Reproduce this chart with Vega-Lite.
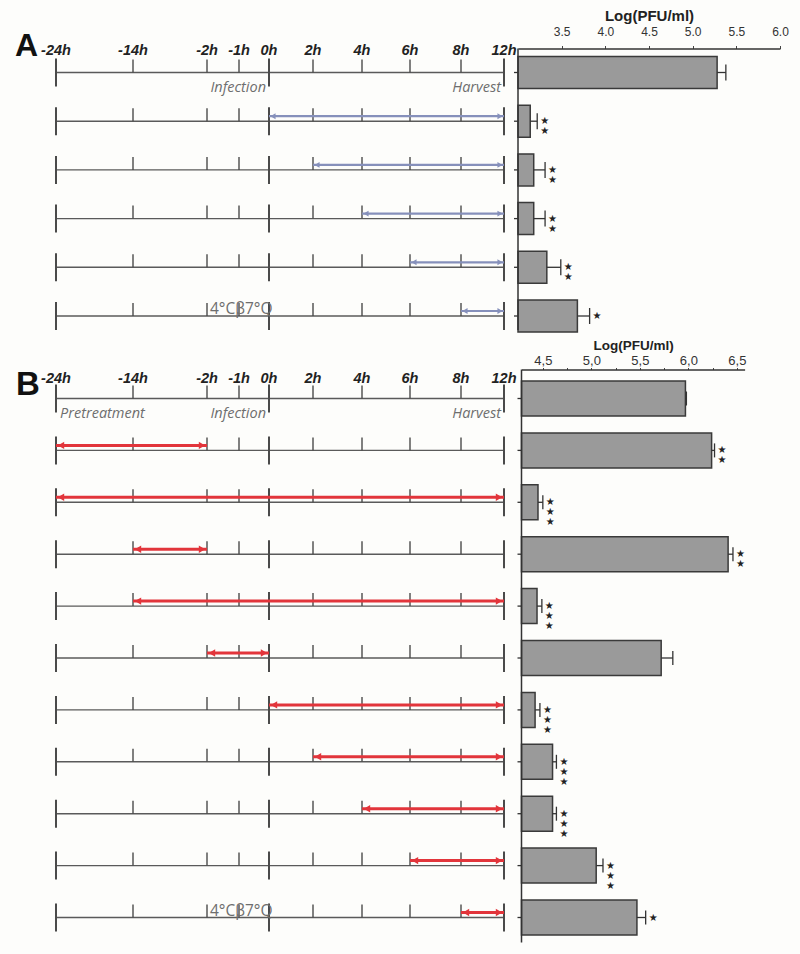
{
  "$schema": "https://vega.github.io/schema/vega-lite/v6.json",
  "width": 800,
  "height": 954,
  "autosize": {"type": "fit", "contains": "padding"},
  "padding": 0,
  "background": "#fdfdfb",
  "config": {"view": {"stroke": null}},
  "datasets": {
    "rows": [
      {"row": 1, "panel": "A", "val": 5.28, "hi": 5.38, "stars": "", "from": null, "to": null, "short": [-14, -2, -1, 2, 4, 6, 8], "long": [-24, 0, 12]},
      {"row": 2, "panel": "A", "val": 3.14, "hi": 3.22, "stars": "★ ★", "from": 0, "to": 12, "short": [-14, -2, -1, 2, 4, 6, 8], "long": [-24, 0, 12]},
      {"row": 3, "panel": "A", "val": 3.18, "hi": 3.31, "stars": "★ ★", "from": 2, "to": 12, "short": [-14, -2, -1, 2, 4, 6, 8], "long": [-24, 0, 12]},
      {"row": 4, "panel": "A", "val": 3.18, "hi": 3.31, "stars": "★ ★", "from": 4, "to": 12, "short": [-14, -2, -1, 2, 4, 6, 8], "long": [-24, 0, 12]},
      {"row": 5, "panel": "A", "val": 3.33, "hi": 3.49, "stars": "★ ★", "from": 6, "to": 12, "short": [-14, -2, -1, 2, 4, 6, 8], "long": [-24, 0, 12]},
      {"row": 6, "panel": "A", "val": 3.68, "hi": 3.82, "stars": "★", "from": 8, "to": 12, "short": [-14, -2, -1, 2, 4, 6, 8], "long": [-24, 0, 12]},
      {"row": 7, "panel": "B", "val": 5.97, "hi": 5.98, "stars": "", "from": null, "to": null, "short": [-14, -2, -1, 2, 4, 6, 8], "long": [-24, 0, 12]},
      {"row": 8, "panel": "B", "val": 6.24, "hi": 6.27, "stars": "★ ★", "from": -24, "to": -2, "short": [-14, -2, -1, 2, 4, 6, 8], "long": [-24, 0, 12]},
      {"row": 9, "panel": "B", "val": 4.45, "hi": 4.50, "stars": "★ ★ ★", "from": -24, "to": 12, "short": [-14, -2, -1, 2, 4, 6, 8], "long": [-24, 0, 12]},
      {"row": 10, "panel": "B", "val": 6.41, "hi": 6.46, "stars": "★ ★", "from": -14, "to": -2, "short": [-14, -2, -1, 2, 4, 6, 8], "long": [-24, 0, 12]},
      {"row": 11, "panel": "B", "val": 4.44, "hi": 4.49, "stars": "★ ★ ★", "from": -14, "to": 12, "short": [-14, -2, -1, 2, 4, 6, 8], "long": [-24, 0, 12]},
      {"row": 12, "panel": "B", "val": 5.72, "hi": 5.84, "stars": "", "from": -2, "to": 0, "short": [-14, -2, -1, 2, 4, 6, 8], "long": [-24, 0, 12]},
      {"row": 13, "panel": "B", "val": 4.42, "hi": 4.47, "stars": "★ ★ ★", "from": 0, "to": 12, "short": [-14, -2, -1, 2, 4, 6, 8], "long": [-24, 0, 12]},
      {"row": 14, "panel": "B", "val": 4.60, "hi": 4.64, "stars": "★ ★ ★", "from": 2, "to": 12, "short": [-14, -2, -1, 2, 4, 6, 8], "long": [-24, 0, 12]},
      {"row": 15, "panel": "B", "val": 4.60, "hi": 4.64, "stars": "★ ★ ★", "from": 4, "to": 12, "short": [-14, -2, -1, 2, 4, 6, 8], "long": [-24, 0, 12]},
      {"row": 16, "panel": "B", "val": 5.05, "hi": 5.12, "stars": "★ ★ ★", "from": 6, "to": 12, "short": [-14, -2, -1, 2, 4, 6, 8], "long": [-24, 0, 12]},
      {"row": 17, "panel": "B", "val": 5.47, "hi": 5.56, "stars": "★", "from": 8, "to": 12, "short": [-14, -2, -1, 2, 4, 6, 8], "long": [-24, 0, 12]}
    ],
    "hours": [
      {"t": -24, "label": "-24h"}, {"t": -14, "label": "-14h"}, {"t": -2, "label": "-2h"},
      {"t": -1, "label": "-1h"}, {"t": 0, "label": "0h"}, {"t": 2, "label": "2h"},
      {"t": 4, "label": "4h"}, {"t": 6, "label": "6h"}, {"t": 8, "label": "8h"}, {"t": 12, "label": "12h"}
    ],
    "panels": [{"panel": "A", "row": 1}, {"panel": "B", "row": 7}],
    "notesBelow": [
      {"row": 1, "t": 0, "label": "Infection"}, {"row": 1, "t": 12, "label": "Harvest"},
      {"row": 7, "t": 0, "label": "Infection"}, {"row": 7, "t": 12, "label": "Harvest"},
      {"row": 7, "t": -24, "label": "Pretreatment"}
    ],
    "notesAbove": [{"row": 6, "t": -2, "label": "4°Cβ7°Q"}, {"row": 17, "t": -2, "label": "4°Cβ7°Q"}]
  },
  "resolve": {"scale": {"x": "independent"}},
  "layer": [
    {
      "data": {"name": "rows"},
      "layer": [
        {
          "mark": {"type": "rule", "color": "#5a5a5a", "strokeWidth": 1.4},
          "encoding": {
            "x": {"datum": -24, "type": "quantitative", "scale": {"domain": [-24, -14, -2, -1, 0, 2, 4, 6, 8, 12], "range": [56, 133, 207, 239, 269, 313, 362, 410, 461, 504]}, "axis": null},
            "x2": {"datum": 12},
            "y": {"field": "row", "type": "quantitative", "scale": {"domain": [1, 6, 7, 17], "range": [72.5, 316, 398.5, 917.5], "padding": 0}, "axis": null}
          }
        },
        {
          "transform": [{"flatten": ["short"]}],
          "mark": {"type": "rule", "color": "#4a4a4a", "strokeWidth": 1.4, "yOffset": -13},
          "encoding": {
            "x": {"field": "short", "type": "quantitative", "scale": {"domain": [-24, -14, -2, -1, 0, 2, 4, 6, 8, 12], "range": [56, 133, 207, 239, 269, 313, 362, 410, 461, 504]}, "axis": null},
            "y": {"field": "row", "type": "quantitative", "scale": {"domain": [1, 6, 7, 17], "range": [72.5, 316, 398.5, 917.5], "padding": 0}, "axis": null},
            "y2": {"field": "row"}
          }
        },
        {
          "transform": [{"flatten": ["long"]}],
          "mark": {"type": "rule", "color": "#4a4a4a", "strokeWidth": 2, "yOffset": -14, "y2Offset": 14},
          "encoding": {
            "x": {"field": "long", "type": "quantitative", "scale": {"domain": [-24, -14, -2, -1, 0, 2, 4, 6, 8, 12], "range": [56, 133, 207, 239, 269, 313, 362, 410, 461, 504]}, "axis": null},
            "y": {"field": "row", "type": "quantitative", "scale": {"domain": [1, 6, 7, 17], "range": [72.5, 316, 398.5, 917.5], "padding": 0}, "axis": null},
            "y2": {"field": "row"}
          }
        },
        {
          "transform": [{"filter": "datum.panel == 'A' && datum.from != null"}],
          "mark": {"type": "rule", "color": "#8690bb", "strokeWidth": 2.2, "yOffset": -5},
          "encoding": {
            "x": {"field": "from", "type": "quantitative", "scale": {"domain": [-24, -14, -2, -1, 0, 2, 4, 6, 8, 12], "range": [56, 133, 207, 239, 269, 313, 362, 410, 461, 504]}, "axis": null},
            "x2": {"field": "to"},
            "y": {"field": "row", "type": "quantitative", "scale": {"domain": [1, 6, 7, 17], "range": [72.5, 316, 398.5, 917.5], "padding": 0}, "axis": null}
          }
        },
        {
          "transform": [{"filter": "datum.panel == 'A' && datum.from != null"}],
          "mark": {"type": "point", "shape": "triangle-left", "filled": true, "opacity": 1, "size": 35, "color": "#8690bb", "xOffset": 4, "yOffset": -5},
          "encoding": {
            "x": {"field": "from", "type": "quantitative", "scale": {"domain": [-24, -14, -2, -1, 0, 2, 4, 6, 8, 12], "range": [56, 133, 207, 239, 269, 313, 362, 410, 461, 504]}, "axis": null},
            "y": {"field": "row", "type": "quantitative", "scale": {"domain": [1, 6, 7, 17], "range": [72.5, 316, 398.5, 917.5], "padding": 0}, "axis": null}
          }
        },
        {
          "transform": [{"filter": "datum.panel == 'A' && datum.from != null"}],
          "mark": {"type": "point", "shape": "triangle-right", "filled": true, "opacity": 1, "size": 35, "color": "#8690bb", "xOffset": -4, "yOffset": -5},
          "encoding": {
            "x": {"field": "to", "type": "quantitative", "scale": {"domain": [-24, -14, -2, -1, 0, 2, 4, 6, 8, 12], "range": [56, 133, 207, 239, 269, 313, 362, 410, 461, 504]}, "axis": null},
            "y": {"field": "row", "type": "quantitative", "scale": {"domain": [1, 6, 7, 17], "range": [72.5, 316, 398.5, 917.5], "padding": 0}, "axis": null}
          }
        },
        {
          "transform": [{"filter": "datum.panel == 'B' && datum.from != null"}],
          "mark": {"type": "rule", "color": "#e2353b", "strokeWidth": 3, "yOffset": -5},
          "encoding": {
            "x": {"field": "from", "type": "quantitative", "scale": {"domain": [-24, -14, -2, -1, 0, 2, 4, 6, 8, 12], "range": [56, 133, 207, 239, 269, 313, 362, 410, 461, 504]}, "axis": null},
            "x2": {"field": "to"},
            "y": {"field": "row", "type": "quantitative", "scale": {"domain": [1, 6, 7, 17], "range": [72.5, 316, 398.5, 917.5], "padding": 0}, "axis": null}
          }
        },
        {
          "transform": [{"filter": "datum.panel == 'B' && datum.from != null"}],
          "mark": {"type": "point", "shape": "triangle-left", "filled": true, "opacity": 1, "size": 55, "color": "#e2353b", "xOffset": 5, "yOffset": -5},
          "encoding": {
            "x": {"field": "from", "type": "quantitative", "scale": {"domain": [-24, -14, -2, -1, 0, 2, 4, 6, 8, 12], "range": [56, 133, 207, 239, 269, 313, 362, 410, 461, 504]}, "axis": null},
            "y": {"field": "row", "type": "quantitative", "scale": {"domain": [1, 6, 7, 17], "range": [72.5, 316, 398.5, 917.5], "padding": 0}, "axis": null}
          }
        },
        {
          "transform": [{"filter": "datum.panel == 'B' && datum.from != null"}],
          "mark": {"type": "point", "shape": "triangle-right", "filled": true, "opacity": 1, "size": 55, "color": "#e2353b", "xOffset": -5, "yOffset": -5},
          "encoding": {
            "x": {"field": "to", "type": "quantitative", "scale": {"domain": [-24, -14, -2, -1, 0, 2, 4, 6, 8, 12], "range": [56, 133, 207, 239, 269, 313, 362, 410, 461, 504]}, "axis": null},
            "y": {"field": "row", "type": "quantitative", "scale": {"domain": [1, 6, 7, 17], "range": [72.5, 316, 398.5, 917.5], "padding": 0}, "axis": null}
          }
        },
        {
          "data": {"name": "hours"},
          "mark": {"type": "text", "font": "Liberation Sans", "fontWeight": "bold", "fontStyle": "italic", "fontSize": 14.5, "color": "#222", "align": "center", "baseline": "alphabetic", "dy": -17.5},
          "encoding": {
            "x": {"field": "t", "type": "quantitative", "scale": {"domain": [-24, -14, -2, -1, 0, 2, 4, 6, 8, 12], "range": [56, 133, 207, 239, 269, 313, 362, 410, 461, 504]}, "axis": null},
            "y": {"datum": 1, "type": "quantitative", "scale": {"domain": [1, 6, 7, 17], "range": [72.5, 316, 398.5, 917.5], "padding": 0}, "axis": null},
            "text": {"field": "label"}
          }
        },
        {
          "data": {"name": "hours"},
          "mark": {"type": "text", "font": "Liberation Sans", "fontWeight": "bold", "fontStyle": "italic", "fontSize": 14.5, "color": "#222", "align": "center", "baseline": "alphabetic", "dy": -15.5},
          "encoding": {
            "x": {"field": "t", "type": "quantitative", "scale": {"domain": [-24, -14, -2, -1, 0, 2, 4, 6, 8, 12], "range": [56, 133, 207, 239, 269, 313, 362, 410, 461, 504]}, "axis": null},
            "y": {"datum": 7, "type": "quantitative", "scale": {"domain": [1, 6, 7, 17], "range": [72.5, 316, 398.5, 917.5], "padding": 0}, "axis": null},
            "text": {"field": "label"}
          }
        },
        {
          "data": {"name": "panels"},
          "transform": [{"filter": "datum.panel == 'A'"}],
          "mark": {"type": "text", "font": "Liberation Sans", "fontWeight": "bold", "fontSize": 32, "color": "#111", "align": "left", "baseline": "alphabetic", "dx": -41, "dy": -17},
          "encoding": {
            "x": {"datum": -24, "type": "quantitative", "scale": {"domain": [-24, -14, -2, -1, 0, 2, 4, 6, 8, 12], "range": [56, 133, 207, 239, 269, 313, 362, 410, 461, 504]}, "axis": null},
            "y": {"field": "row", "type": "quantitative", "scale": {"domain": [1, 6, 7, 17], "range": [72.5, 316, 398.5, 917.5], "padding": 0}, "axis": null},
            "text": {"field": "panel"}
          }
        },
        {
          "data": {"name": "panels"},
          "transform": [{"filter": "datum.panel == 'B'"}],
          "mark": {"type": "text", "font": "Liberation Sans", "fontWeight": "bold", "fontSize": 33, "color": "#111", "align": "left", "baseline": "alphabetic", "dx": -40, "dy": -3.5},
          "encoding": {
            "x": {"datum": -24, "type": "quantitative", "scale": {"domain": [-24, -14, -2, -1, 0, 2, 4, 6, 8, 12], "range": [56, 133, 207, 239, 269, 313, 362, 410, 461, 504]}, "axis": null},
            "y": {"field": "row", "type": "quantitative", "scale": {"domain": [1, 6, 7, 17], "range": [72.5, 316, 398.5, 917.5], "padding": 0}, "axis": null},
            "text": {"field": "panel"}
          }
        },
        {
          "data": {"name": "notesBelow"},
          "transform": [{"filter": "datum.t != -24"}],
          "mark": {"type": "text", "font": "Open Sans", "fontStyle": "italic", "fontSize": 14.5, "color": "#6e6e6e", "align": "right", "baseline": "alphabetic", "dx": -3, "dy": 19},
          "encoding": {
            "x": {"field": "t", "type": "quantitative", "scale": {"domain": [-24, -14, -2, -1, 0, 2, 4, 6, 8, 12], "range": [56, 133, 207, 239, 269, 313, 362, 410, 461, 504]}, "axis": null},
            "y": {"field": "row", "type": "quantitative", "scale": {"domain": [1, 6, 7, 17], "range": [72.5, 316, 398.5, 917.5], "padding": 0}, "axis": null},
            "text": {"field": "label"}
          }
        },
        {
          "data": {"name": "notesBelow"},
          "transform": [{"filter": "datum.t == -24"}],
          "mark": {"type": "text", "font": "Open Sans", "fontStyle": "italic", "fontSize": 14.5, "color": "#6e6e6e", "align": "left", "baseline": "alphabetic", "dx": 4, "dy": 19},
          "encoding": {
            "x": {"field": "t", "type": "quantitative", "scale": {"domain": [-24, -14, -2, -1, 0, 2, 4, 6, 8, 12], "range": [56, 133, 207, 239, 269, 313, 362, 410, 461, 504]}, "axis": null},
            "y": {"field": "row", "type": "quantitative", "scale": {"domain": [1, 6, 7, 17], "range": [72.5, 316, 398.5, 917.5], "padding": 0}, "axis": null},
            "text": {"field": "label"}
          }
        },
        {
          "data": {"name": "notesAbove"},
          "mark": {"type": "text", "font": "Open Sans", "fontSize": 15.5, "color": "#6e6e6e", "align": "left", "baseline": "alphabetic", "dx": 3, "dy": -2},
          "encoding": {
            "x": {"field": "t", "type": "quantitative", "scale": {"domain": [-24, -14, -2, -1, 0, 2, 4, 6, 8, 12], "range": [56, 133, 207, 239, 269, 313, 362, 410, 461, 504]}, "axis": null},
            "y": {"field": "row", "type": "quantitative", "scale": {"domain": [1, 6, 7, 17], "range": [72.5, 316, 398.5, 917.5], "padding": 0}, "axis": null},
            "text": {"field": "label"}
          }
        }
      ]
    },
    {
      "data": {"name": "rows"},
      "transform": [{"filter": "datum.panel == 'A'"}],
      "layer": [
        {
          "mark": {"type": "bar", "height": 32, "color": "#9a9a9a", "stroke": "#3a3a3a", "strokeWidth": 1.5},
          "encoding": {
            "x": {"field": "val", "type": "quantitative", "scale": {"domain": [3, 6], "range": [518, 780]},
              "axis": {"orient": "top", "offset": -48.5, "values": [3.5, 4, 4.5, 5, 5.5, 6], "format": ".1f", "title": "Log(PFU/ml)", "titleFont": "Liberation Sans", "titleFontSize": 15, "titleFontWeight": "bold", "titleColor": "#222", "titlePadding": 2, "labelFont": "Liberation Sans", "labelFontSize": 12, "labelColor": "#333", "labelPadding": 7, "tickSize": 3, "tickColor": "#444", "domainColor": "#333", "domainWidth": 1.3, "grid": false, "labelFlush": false}},
            "x2": {"datum": 3},
            "y": {"field": "row", "type": "quantitative", "scale": {"domain": [1, 6, 7, 17], "range": [72.5, 316, 398.5, 917.5], "padding": 0}, "axis": null}
          }
        },
        {
          "mark": {"type": "rule", "color": "#333", "strokeWidth": 1.3},
          "encoding": {
            "x": {"field": "val", "type": "quantitative", "scale": {"domain": [3, 6], "range": [518, 780]},
              "axis": {"orient": "top", "offset": -48.5, "values": [3.5, 4, 4.5, 5, 5.5, 6], "format": ".1f", "title": "Log(PFU/ml)", "titleFont": "Liberation Sans", "titleFontSize": 15, "titleFontWeight": "bold", "titleColor": "#222", "titlePadding": 2, "labelFont": "Liberation Sans", "labelFontSize": 12, "labelColor": "#333", "labelPadding": 7, "tickSize": 3, "tickColor": "#444", "domainColor": "#333", "domainWidth": 1.3, "grid": false, "labelFlush": false}},
            "x2": {"field": "hi"},
            "y": {"field": "row", "type": "quantitative", "scale": {"domain": [1, 6, 7, 17], "range": [72.5, 316, 398.5, 917.5], "padding": 0}, "axis": null}
          }
        },
        {
          "mark": {"type": "rule", "color": "#333", "strokeWidth": 1.3, "yOffset": -8, "y2Offset": 8},
          "encoding": {
            "x": {"field": "hi", "type": "quantitative", "scale": {"domain": [3, 6], "range": [518, 780]},
              "axis": {"orient": "top", "offset": -48.5, "values": [3.5, 4, 4.5, 5, 5.5, 6], "format": ".1f", "title": "Log(PFU/ml)", "titleFont": "Liberation Sans", "titleFontSize": 15, "titleFontWeight": "bold", "titleColor": "#222", "titlePadding": 2, "labelFont": "Liberation Sans", "labelFontSize": 12, "labelColor": "#333", "labelPadding": 7, "tickSize": 3, "tickColor": "#444", "domainColor": "#333", "domainWidth": 1.3, "grid": false, "labelFlush": false}},
            "y": {"field": "row", "type": "quantitative", "scale": {"domain": [1, 6, 7, 17], "range": [72.5, 316, 398.5, 917.5], "padding": 0}, "axis": null},
            "y2": {"field": "row"}
          }
        },
        {
          "transform": [{"filter": "datum.stars != ''"}],
          "mark": {"type": "text", "font": "DejaVu Sans", "fontSize": 10, "lineHeight": 10, "lineBreak": " ", "color": "#222", "align": "left", "baseline": "middle", "dx": 3},
          "encoding": {
            "x": {"field": "hi", "type": "quantitative", "scale": {"domain": [3, 6], "range": [518, 780]},
              "axis": {"orient": "top", "offset": -48.5, "values": [3.5, 4, 4.5, 5, 5.5, 6], "format": ".1f", "title": "Log(PFU/ml)", "titleFont": "Liberation Sans", "titleFontSize": 15, "titleFontWeight": "bold", "titleColor": "#222", "titlePadding": 2, "labelFont": "Liberation Sans", "labelFontSize": 12, "labelColor": "#333", "labelPadding": 7, "tickSize": 3, "tickColor": "#444", "domainColor": "#333", "domainWidth": 1.3, "grid": false, "labelFlush": false}},
            "y": {"field": "row", "type": "quantitative", "scale": {"domain": [1, 6, 7, 17], "range": [72.5, 316, 398.5, 917.5], "padding": 0}, "axis": null},
            "text": {"field": "stars"}
          }
        },
        {
          "mark": {"type": "rule", "color": "#333", "strokeWidth": 1.3, "xOffset": -4},
          "encoding": {
            "x": {"datum": 3, "type": "quantitative", "scale": {"domain": [3, 6], "range": [518, 780]},
              "axis": {"orient": "top", "offset": -48.5, "values": [3.5, 4, 4.5, 5, 5.5, 6], "format": ".1f", "title": "Log(PFU/ml)", "titleFont": "Liberation Sans", "titleFontSize": 15, "titleFontWeight": "bold", "titleColor": "#222", "titlePadding": 2, "labelFont": "Liberation Sans", "labelFontSize": 12, "labelColor": "#333", "labelPadding": 7, "tickSize": 3, "tickColor": "#444", "domainColor": "#333", "domainWidth": 1.3, "grid": false, "labelFlush": false}},
            "x2": {"datum": 3},
            "y": {"field": "row", "type": "quantitative", "scale": {"domain": [1, 6, 7, 17], "range": [72.5, 316, 398.5, 917.5], "padding": 0}, "axis": null}
          }
        },
        {
          "data": {"values": [{}]},
          "mark": {"type": "rule", "color": "#333", "strokeWidth": 1.5, "yOffset": -24, "y2Offset": 14},
          "encoding": {
            "x": {"datum": 3, "type": "quantitative", "scale": {"domain": [3, 6], "range": [518, 780]},
              "axis": {"orient": "top", "offset": -48.5, "values": [3.5, 4, 4.5, 5, 5.5, 6], "format": ".1f", "title": "Log(PFU/ml)", "titleFont": "Liberation Sans", "titleFontSize": 15, "titleFontWeight": "bold", "titleColor": "#222", "titlePadding": 2, "labelFont": "Liberation Sans", "labelFontSize": 12, "labelColor": "#333", "labelPadding": 7, "tickSize": 3, "tickColor": "#444", "domainColor": "#333", "domainWidth": 1.3, "grid": false, "labelFlush": false}},
            "y": {"datum": 1, "type": "quantitative", "scale": {"domain": [1, 6, 7, 17], "range": [72.5, 316, 398.5, 917.5], "padding": 0}, "axis": null},
            "y2": {"datum": 6}
          }
        }
      ]
    },
    {
      "data": {"name": "rows"},
      "transform": [{"filter": "datum.panel == 'B'"}],
      "layer": [
        {
          "mark": {"type": "bar", "height": 35, "color": "#9a9a9a", "stroke": "#3a3a3a", "strokeWidth": 1.5},
          "encoding": {
            "x": {"field": "val", "type": "quantitative", "scale": {"domain": [4.28, 6.58], "range": [521.5, 744.6]},
              "axis": {"orient": "top", "offset": -369.5, "values": [4.5, 4.75, 5, 5.25, 5.5, 5.75, 6, 6.25, 6.5], "labelExpr": "(datum.value * 4) % 2 == 0 ? replace(format(datum.value, '.1f'), '.', ',') : ''", "title": "Log(PFU/ml)", "titleFont": "Liberation Sans", "titleFontSize": 13.5, "titleFontWeight": "bold", "titleColor": "#222", "titlePadding": 2, "labelFont": "Liberation Sans", "labelFontSize": 13, "labelColor": "#333", "labelPadding": 0, "tickSize": 2, "tickColor": "#444", "domainColor": "#333", "domainWidth": 1.3, "grid": false, "labelFlush": false}},
            "x2": {"datum": 4.28},
            "y": {"field": "row", "type": "quantitative", "scale": {"domain": [1, 6, 7, 17], "range": [72.5, 316, 398.5, 917.5], "padding": 0}, "axis": null}
          }
        },
        {
          "mark": {"type": "rule", "color": "#333", "strokeWidth": 1.3},
          "encoding": {
            "x": {"field": "val", "type": "quantitative", "scale": {"domain": [4.28, 6.58], "range": [521.5, 744.6]},
              "axis": {"orient": "top", "offset": -369.5, "values": [4.5, 4.75, 5, 5.25, 5.5, 5.75, 6, 6.25, 6.5], "labelExpr": "(datum.value * 4) % 2 == 0 ? replace(format(datum.value, '.1f'), '.', ',') : ''", "title": "Log(PFU/ml)", "titleFont": "Liberation Sans", "titleFontSize": 13.5, "titleFontWeight": "bold", "titleColor": "#222", "titlePadding": 2, "labelFont": "Liberation Sans", "labelFontSize": 13, "labelColor": "#333", "labelPadding": 0, "tickSize": 2, "tickColor": "#444", "domainColor": "#333", "domainWidth": 1.3, "grid": false, "labelFlush": false}},
            "x2": {"field": "hi"},
            "y": {"field": "row", "type": "quantitative", "scale": {"domain": [1, 6, 7, 17], "range": [72.5, 316, 398.5, 917.5], "padding": 0}, "axis": null}
          }
        },
        {
          "mark": {"type": "rule", "color": "#333", "strokeWidth": 1.3, "yOffset": -7, "y2Offset": 7},
          "encoding": {
            "x": {"field": "hi", "type": "quantitative", "scale": {"domain": [4.28, 6.58], "range": [521.5, 744.6]},
              "axis": {"orient": "top", "offset": -369.5, "values": [4.5, 4.75, 5, 5.25, 5.5, 5.75, 6, 6.25, 6.5], "labelExpr": "(datum.value * 4) % 2 == 0 ? replace(format(datum.value, '.1f'), '.', ',') : ''", "title": "Log(PFU/ml)", "titleFont": "Liberation Sans", "titleFontSize": 13.5, "titleFontWeight": "bold", "titleColor": "#222", "titlePadding": 2, "labelFont": "Liberation Sans", "labelFontSize": 13, "labelColor": "#333", "labelPadding": 0, "tickSize": 2, "tickColor": "#444", "domainColor": "#333", "domainWidth": 1.3, "grid": false, "labelFlush": false}},
            "y": {"field": "row", "type": "quantitative", "scale": {"domain": [1, 6, 7, 17], "range": [72.5, 316, 398.5, 917.5], "padding": 0}, "axis": null},
            "y2": {"field": "row"}
          }
        },
        {
          "transform": [{"filter": "datum.stars != ''"}],
          "mark": {"type": "text", "font": "DejaVu Sans", "fontSize": 10, "lineHeight": 10, "lineBreak": " ", "color": "#222", "align": "left", "baseline": "middle", "dx": 3},
          "encoding": {
            "x": {"field": "hi", "type": "quantitative", "scale": {"domain": [4.28, 6.58], "range": [521.5, 744.6]},
              "axis": {"orient": "top", "offset": -369.5, "values": [4.5, 4.75, 5, 5.25, 5.5, 5.75, 6, 6.25, 6.5], "labelExpr": "(datum.value * 4) % 2 == 0 ? replace(format(datum.value, '.1f'), '.', ',') : ''", "title": "Log(PFU/ml)", "titleFont": "Liberation Sans", "titleFontSize": 13.5, "titleFontWeight": "bold", "titleColor": "#222", "titlePadding": 2, "labelFont": "Liberation Sans", "labelFontSize": 13, "labelColor": "#333", "labelPadding": 0, "tickSize": 2, "tickColor": "#444", "domainColor": "#333", "domainWidth": 1.3, "grid": false, "labelFlush": false}},
            "y": {"field": "row", "type": "quantitative", "scale": {"domain": [1, 6, 7, 17], "range": [72.5, 316, 398.5, 917.5], "padding": 0}, "axis": null},
            "text": {"field": "stars"}
          }
        },
        {
          "mark": {"type": "rule", "color": "#333", "strokeWidth": 1.3, "xOffset": -4},
          "encoding": {
            "x": {"datum": 4.28, "type": "quantitative", "scale": {"domain": [4.28, 6.58], "range": [521.5, 744.6]},
              "axis": {"orient": "top", "offset": -369.5, "values": [4.5, 4.75, 5, 5.25, 5.5, 5.75, 6, 6.25, 6.5], "labelExpr": "(datum.value * 4) % 2 == 0 ? replace(format(datum.value, '.1f'), '.', ',') : ''", "title": "Log(PFU/ml)", "titleFont": "Liberation Sans", "titleFontSize": 13.5, "titleFontWeight": "bold", "titleColor": "#222", "titlePadding": 2, "labelFont": "Liberation Sans", "labelFontSize": 13, "labelColor": "#333", "labelPadding": 0, "tickSize": 2, "tickColor": "#444", "domainColor": "#333", "domainWidth": 1.3, "grid": false, "labelFlush": false}},
            "x2": {"datum": 4.28},
            "y": {"field": "row", "type": "quantitative", "scale": {"domain": [1, 6, 7, 17], "range": [72.5, 316, 398.5, 917.5], "padding": 0}, "axis": null}
          }
        },
        {
          "data": {"values": [{}]},
          "mark": {"type": "rule", "color": "#333", "strokeWidth": 1.5, "yOffset": -29, "y2Offset": 25},
          "encoding": {
            "x": {"datum": 4.28, "type": "quantitative", "scale": {"domain": [4.28, 6.58], "range": [521.5, 744.6]},
              "axis": {"orient": "top", "offset": -369.5, "values": [4.5, 4.75, 5, 5.25, 5.5, 5.75, 6, 6.25, 6.5], "labelExpr": "(datum.value * 4) % 2 == 0 ? replace(format(datum.value, '.1f'), '.', ',') : ''", "title": "Log(PFU/ml)", "titleFont": "Liberation Sans", "titleFontSize": 13.5, "titleFontWeight": "bold", "titleColor": "#222", "titlePadding": 2, "labelFont": "Liberation Sans", "labelFontSize": 13, "labelColor": "#333", "labelPadding": 0, "tickSize": 2, "tickColor": "#444", "domainColor": "#333", "domainWidth": 1.3, "grid": false, "labelFlush": false}},
            "y": {"datum": 7, "type": "quantitative", "scale": {"domain": [1, 6, 7, 17], "range": [72.5, 316, 398.5, 917.5], "padding": 0}, "axis": null},
            "y2": {"datum": 17}
          }
        }
      ]
    }
  ]
}
